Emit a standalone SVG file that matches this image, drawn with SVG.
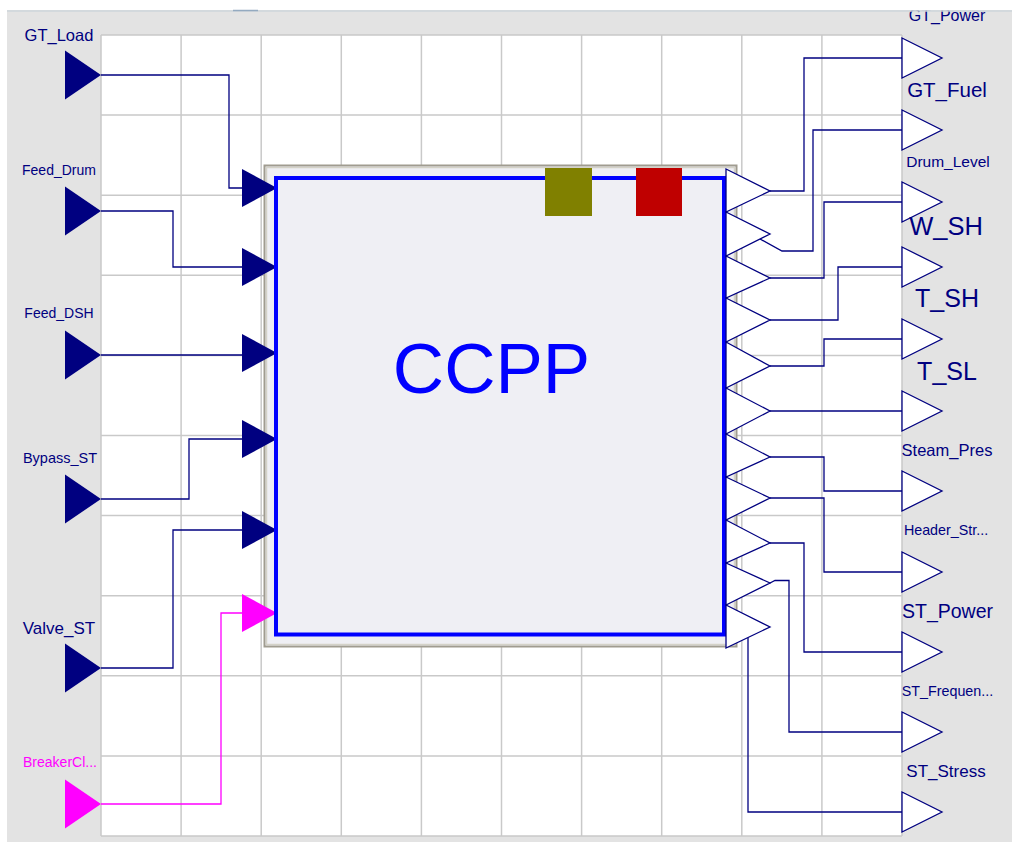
<svg xmlns="http://www.w3.org/2000/svg" width="1012" height="842" viewBox="0 0 1012 842">
<defs>
<style>
.grid line{stroke:#c9c9c9;stroke-width:1.5}
.lbl{font-family:"Liberation Sans",Arial,sans-serif;fill:#000080;text-anchor:middle}
.in{fill:#000080;stroke:none}
.inm{fill:#ff00ff;stroke:none}
.out{fill:#ffffff;stroke:#000080;stroke-width:1.3;stroke-linejoin:miter}
.wire{fill:none;stroke:#000080;stroke-width:1.3}
.wirem{fill:none;stroke:#ff00ff;stroke-width:1.3}
</style>
</defs>
<rect x="0" y="0" width="1012" height="842" fill="#ffffff"/>
<rect x="7" y="12" width="1005" height="830" fill="#e3e3e3"/>
<rect x="101" y="35" width="801" height="801" fill="#ffffff"/>
<g class="grid">
<line x1="101" y1="35" x2="101" y2="836"/><line x1="181.1" y1="35" x2="181.1" y2="836"/><line x1="261.2" y1="35" x2="261.2" y2="836"/><line x1="341.3" y1="35" x2="341.3" y2="836"/><line x1="421.4" y1="35" x2="421.4" y2="836"/><line x1="501.5" y1="35" x2="501.5" y2="836"/><line x1="581.6" y1="35" x2="581.6" y2="836"/><line x1="661.7" y1="35" x2="661.7" y2="836"/><line x1="741.8" y1="35" x2="741.8" y2="836"/><line x1="821.9" y1="35" x2="821.9" y2="836"/><line x1="902" y1="35" x2="902" y2="836"/>
<line x1="101" y1="35" x2="902" y2="35"/><line x1="101" y1="115.1" x2="902" y2="115.1"/><line x1="101" y1="195.2" x2="902" y2="195.2"/><line x1="101" y1="275.3" x2="902" y2="275.3"/><line x1="101" y1="355.4" x2="902" y2="355.4"/><line x1="101" y1="435.5" x2="902" y2="435.5"/><line x1="101" y1="515.6" x2="902" y2="515.6"/><line x1="101" y1="595.7" x2="902" y2="595.7"/><line x1="101" y1="675.8" x2="902" y2="675.8"/><line x1="101" y1="755.9" x2="902" y2="755.9"/><line x1="101" y1="836" x2="902" y2="836"/>
</g>
<g id="connectors">
<path class="wire" d="M101 75 H229 V188 H242"/>
<path class="wire" d="M101 211 H173 V267 H242"/>
<path class="wire" d="M101 355 H242"/>
<path class="wire" d="M101 499 H189 V439 H242"/>
<path class="wire" d="M101 668 H173 V530 H242"/>
<path class="wirem" d="M101 804 H221 V613 H242"/>
<path class="wire" d="M770 191 H804 V58 H902"/>
<path class="wire" d="M760 239 L782 251 H813 V130 H902"/>
<path class="wire" d="M770 278 H824 V202 H902"/>
<path class="wire" d="M770 320 H838 V267 H902"/>
<path class="wire" d="M770 366 H824 V339 H902"/>
<path class="wire" d="M770 411 H902"/>
<path class="wire" d="M770 457 H824 V491 H902"/>
<path class="wire" d="M770 498 H824 V572 H902"/>
<path class="wire" d="M770 543 H804 V652 H902"/>
<path class="wire" d="M770 583 L775 580.5 H789 V732 H902"/>
<path class="wire" d="M748 637.5 V812 H902"/>
</g>
<g id="CCPP">
<rect x="264.5" y="165.5" width="472" height="481" fill="#efeff4" stroke="#a09c90" stroke-width="2"/>
<rect x="266.5" y="167.5" width="468" height="477" fill="none" stroke="#d4d2c8" stroke-width="1.5"/>
<polygon class="in" points="242,169 277,188 242,207"/>
<polygon class="in" points="242,248 277,267 242,286"/>
<polygon class="in" points="242,334 277,353 242,372"/>
<polygon class="in" points="242,420 277,439 242,458"/>
<polygon class="in" points="242,511 277,530 242,549"/>
<polygon class="inm" points="242,594 277,613 242,632"/>
<rect x="276" y="178" width="448" height="456.5" fill="none" stroke="#0000ff" stroke-width="4"/>
<rect x="545" y="168" width="47" height="48" fill="#808000"/>
<rect x="636" y="168" width="46" height="48" fill="#bf0000"/>
<text x="491.5" y="393" font-family="'Liberation Sans',Arial,sans-serif" font-size="71" fill="#0000ff" text-anchor="middle">CCPP</text>
<polygon class="out" points="726,169 770,191 726,212"/>
<polygon class="out" points="726,212 770,234 726,256"/>
<polygon class="out" points="726,256 770,278 726,298"/>
<polygon class="out" points="726,298 770,320 726,342"/>
<polygon class="out" points="726,342 770,366 726,388"/>
<polygon class="out" points="726,388 770,411 726,434"/>
<polygon class="out" points="726,434 770,457 726,477"/>
<polygon class="out" points="726,477 770,498 726,520"/>
<polygon class="out" points="726,520 770,543 726,563"/>
<polygon class="out" points="726,563 770,583 726,605"/>
<polygon class="out" points="726,605 770,627 726,648"/>
</g>
<g id="GT_Load"><polygon class="in" points="65,50.5 101,75 65,99.5"/><text class="lbl" x="59" y="41" font-size="16.5">GT_Load</text></g>
<g id="Feed_Drum"><polygon class="in" points="65,186.5 101,211 65,235.5"/><text class="lbl" x="59" y="175" font-size="14">Feed_Drum</text></g>
<g id="Feed_DSH"><polygon class="in" points="65,330.5 101,355 65,379.5"/><text class="lbl" x="59" y="318" font-size="14">Feed_DSH</text></g>
<g id="Bypass_ST"><polygon class="in" points="65,474.5 101,499 65,523.5"/><text class="lbl" x="60" y="463" font-size="14.5">Bypass_ST</text></g>
<g id="Valve_ST"><polygon class="in" points="65,643.5 101,668 65,692.5"/><text class="lbl" x="59" y="634" font-size="17">Valve_ST</text></g>
<g id="BreakerClose"><polygon class="inm" points="65,779.5 101,804 65,828.5"/><text class="lbl" x="60" y="767" font-size="14" style="fill:#ff00ff">BreakerCl...</text></g>
<g id="GT_Power"><polygon class="out" points="902,38 942,58 902,78"/><text class="lbl" x="947" y="21" font-size="16">GT_Power</text></g>
<g id="GT_Fuel"><polygon class="out" points="902,110 942,130 902,150"/><text class="lbl" x="947" y="97" font-size="20.5">GT_Fuel</text></g>
<g id="Drum_Level"><polygon class="out" points="902,182 942,202 902,222"/><text class="lbl" x="948" y="167" font-size="15.5">Drum_Level</text></g>
<g id="W_SH"><polygon class="out" points="902,247 942,267 902,287"/><text class="lbl" x="946" y="235" font-size="25.5">W_SH</text></g>
<g id="T_SH"><polygon class="out" points="902,319 942,339 902,359"/><text class="lbl" x="947" y="307" font-size="25">T_SH</text></g>
<g id="T_SL"><polygon class="out" points="902,391 942,411 902,431"/><text class="lbl" x="947" y="380" font-size="25">T_SL</text></g>
<g id="Steam_Pres"><polygon class="out" points="902,471 942,491 902,511"/><text class="lbl" x="947" y="456" font-size="16.5">Steam_Pres</text></g>
<g id="Header_Str"><polygon class="out" points="902,552 942,572 902,592"/><text class="lbl" x="946" y="535" font-size="14.3">Header_Str...</text></g>
<g id="ST_Power"><polygon class="out" points="902,632 942,652 902,672"/><text class="lbl" x="947.5" y="618" font-size="19.5">ST_Power</text></g>
<g id="ST_Frequency"><polygon class="out" points="902,712 942,732 902,752"/><text class="lbl" x="947.5" y="696" font-size="14.3">ST_Frequen...</text></g>
<g id="ST_Stress"><polygon class="out" points="902,792 942,812 902,832"/><text class="lbl" x="946" y="777" font-size="17">ST_Stress</text></g>
<rect x="0" y="0" width="1012" height="10.5" fill="#ffffff"/>
<line x1="7" y1="11" x2="1012" y2="11" stroke="#c4ccd2" stroke-width="1.5"/>
<line x1="233" y1="10.5" x2="258" y2="10.5" stroke="#94aac0" stroke-width="1.5"/>
</svg>
